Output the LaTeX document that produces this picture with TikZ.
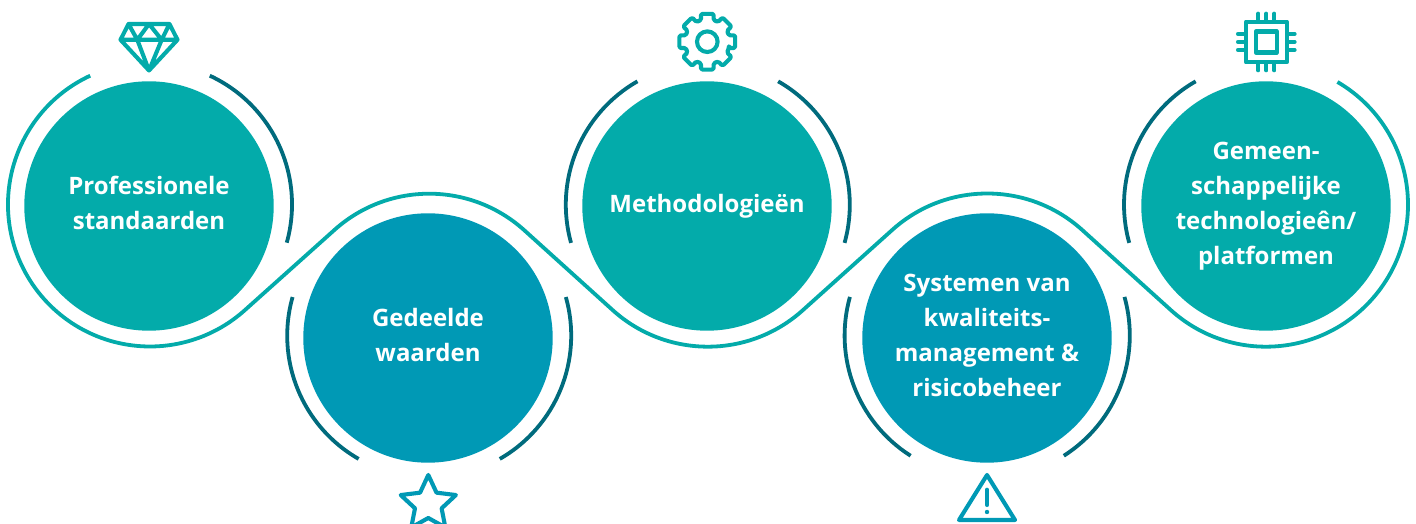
\documentclass[tikz,border=0pt]{standalone}
\usepackage{fontspec}
\setmainfont{Open Sans}[BoldFont={Open Sans Bold}]
\definecolor{tealc}{HTML}{03ABAA}
\definecolor{bluec}{HTML}{0099B5}
\definecolor{darkc}{HTML}{006B7D}
\newcommand{\mystrut}{\rule[-6pt]{0pt}{24pt}}
\tikzset{
  disc/.style={circle,minimum size=249.4pt,inner sep=0pt,text=white,align=center,
    font=\fontsize{24}{34.7}\selectfont\bfseries},
  discteal/.style={disc,fill=tealc},
  discblue/.style={disc,fill=bluec},
  darkarc/.style={draw=darkc,line width=3.8pt},
  ribbon/.style={draw=tealc,line width=3.8pt,line join=round},
  icont/.style={draw=tealc,line width=4.1pt,line join=round,line cap=round},
  iconb/.style={draw=bluec,line width=4.1pt,line join=round,line cap=round},
}
\begin{document}
\begin{tikzpicture}[x=1pt,y=1pt]
\useasboundingbox (0,0) rectangle (1416,524);
\clip (0,0) rectangle (1416,524);
% discs
\node[discteal] (c1) at (149,318) {\mystrut Professionele\\\mystrut standaarden};
\node[discblue] (c2) at (428,186) {\mystrut Gedeelde\\\mystrut waarden};
\node[discteal] (c3) at (707,318) {\mystrut Methodologieën};
\node[discblue] (c4) at (987,186) {\mystrut Systemen van\\\mystrut kwaliteits-\\\mystrut management \&\\\mystrut risicobeheer};
\node[discteal] (c5) at (1266,318) {\mystrut Gemeen-\\\mystrut schappelijke\\\mystrut technologieên/\\\mystrut platformen};
% ring centres
\coordinate (r1) at (150,319.5);
\coordinate (r2) at (429.2,188.3);
\coordinate (r3) at (707.8,319.3);
\coordinate (r4) at (987.2,188.5);
\coordinate (r5) at (1266,319.3);
% ribbon
\path[ribbon]
  ([shift={(114.9:142)}]r1) arc[start angle=114.9,end angle=311.8,radius=142]
  -- ([shift={(131.8:142)}]r2) arc[start angle=131.8,end angle=48.2,radius=142]
  -- ([shift={(228.2:142)}]r3) arc[start angle=228.2,end angle=311.8,radius=142]
  -- ([shift={(131.8:142)}]r4) arc[start angle=131.8,end angle=48.2,radius=142]
  -- ([shift={(228.2:142)}]r5) arc[start angle=228.2,end angle=419.8,radius=142];
% dark arcs
\path[darkarc] ([shift={(65.1:142)}]r1) arc[start angle=65.1,end angle=-15.6,radius=142];
\path[darkarc] ([shift={(164.2:142)}]r2) arc[start angle=164.2,end angle=240.2,radius=142];
\path[darkarc] ([shift={(15.8:142)}]r2) arc[start angle=15.8,end angle=-60.2,radius=142];
\path[darkarc] ([shift={(119.7:142)}]r3) arc[start angle=119.7,end angle=195.6,radius=142];
\path[darkarc] ([shift={(60.3:142)}]r3) arc[start angle=60.3,end angle=-15.6,radius=142];
\path[darkarc] ([shift={(164.3:142.6)}]r4) arc[start angle=164.3,end angle=237.5,radius=142.6];
\path[darkarc] ([shift={(15.7:142.6)}]r4) arc[start angle=15.7,end angle=-57.5,radius=142.6];
\path[darkarc] ([shift={(119.7:142)}]r5) arc[start angle=119.7,end angle=195.6,radius=142];
% diamond
\path[icont] (128.5,500) -- (169.5,500) -- (177.5,484.2) -- (149,453.5) -- (120.5,484.2) -- cycle
  (120.5,484.2) -- (177.5,484.2)
  (128.5,500) -- (137.3,484.2) -- (149,500) -- (161.7,484.2) -- (169.5,500)
  (137.3,484.2) -- (149,453.5) -- (161.7,484.2);
% gear
\coordinate (g) at (707.3,482.3);
\path[icont] (g) circle[radius=10.3];
\path[icont,rounded corners=1.5pt] ([shift={(-16:22.5)}]g)
  \foreach \a in {0,45,...,315} {
    -- ([shift={(\a-16:22.5)}]g) -- ([shift={(\a-13:28.6)}]g)
    -- ([shift={(\a+13:28.6)}]g) -- ([shift={(\a+16:22.5)}]g) } -- cycle;
% chip
\coordinate (ch) at (1266.3,482);
\path[icont] ([shift={(-20.4,-20.4)}]ch) rectangle ([shift={(20.4,20.4)}]ch);
\path[icont] ([shift={(-10.5,-10.5)}]ch) rectangle ([shift={(10.5,10.5)}]ch);
\foreach \d in {-8,0,8} {
  \path[icont] ([shift={(\d,21)}]ch) -- ([shift={(\d,28.3)}]ch);
  \path[icont] ([shift={(\d,-21)}]ch) -- ([shift={(\d,-28.3)}]ch);
  \path[icont] ([shift={(21,\d)}]ch) -- ([shift={(28.3,\d)}]ch);
  \path[icont] ([shift={(-21,\d)}]ch) -- ([shift={(-28.3,\d)}]ch);
}
% star
\coordinate (st) at (428.3,20);
\path[iconb] ([shift={(90:29)}]st)
  \foreach \k in {0,1,2,3,4} {
    -- ([shift={(90+72*\k:29)}]st) -- ([shift={(126+72*\k:14)}]st) } -- cycle;
% warning
\coordinate (wa) at (987,49);
\coordinate (wl) at (959,4);
\coordinate (wr) at (1015,4);
\path[iconb] (wa) -- (wl) -- (wr) -- cycle;
\coordinate (ea) at (987,34.3);
\coordinate (eb) at (987,19);
\path[iconb] (ea) -- (eb);
\fill[bluec] (987,12) circle[radius=2.2];
\end{tikzpicture}
\end{document}
